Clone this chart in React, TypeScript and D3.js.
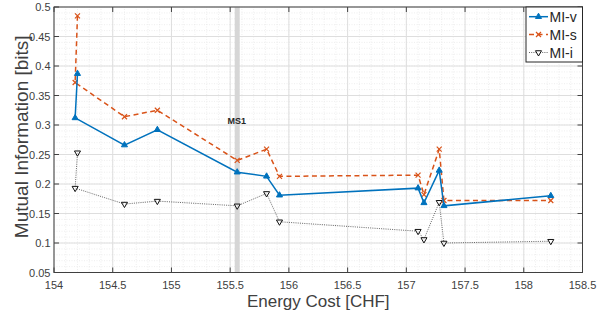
import { useEffect, useRef } from 'react'
import * as d3 from 'd3'

// energy cost of each configuration (same x for all three series, in plotted order)
const cost = [154.2, 154.18, 154.6, 154.88, 155.56, 155.81, 155.92, 157.1, 157.15, 157.28, 157.32, 158.23]
const miV = [0.387, 0.312, 0.266, 0.292, 0.22, 0.213, 0.181, 0.193, 0.168, 0.223, 0.163, 0.18]
const miS = [0.485, 0.372, 0.314, 0.325, 0.24, 0.259, 0.213, 0.215, 0.182, 0.259, 0.172, 0.172]
const miI = [0.253, 0.193, 0.166, 0.171, 0.163, 0.184, 0.136, 0.12, 0.106, 0.169, 0.1, 0.103]
const seriesNames = ['MI-v', 'MI-s', 'MI-i']
const xTicks = [154, 154.5, 155, 155.5, 156, 156.5, 157, 157.5, 158, 158.5]
const yTicks = [0.05, 0.1, 0.15, 0.2, 0.25, 0.3, 0.35, 0.4, 0.45, 0.5]
const msCost = 155.56
const msLabel = 'MS1'

const W = 598
const H = 323
const M = { left: 54, right: 15.5, top: 7, bottom: 50.5 }
const AX = '#404040'

export default function App() {
  const ref = useRef<SVGSVGElement>(null)

  useEffect(() => {
    if (!ref.current) return
    const svg = d3.select(ref.current)
    svg.selectAll('*').remove()

    const x = d3.scaleLinear().domain([154, 158.5]).range([M.left, W - M.right])
    const y = d3.scaleLinear().domain([0.05, 0.5]).range([H - M.bottom, M.top])
    const [x0, x1] = x.range()
    const [y0, y1] = y.range()

    // minor grid
    const g = svg.append('g')
    d3.range(154, 158.5001, 0.1).forEach(v => {
      g.append('line').attr('x1', x(v)).attr('x2', x(v)).attr('y1', y0).attr('y2', y1)
        .attr('stroke', '#e3e3e3').attr('stroke-width', 0.6).attr('stroke-dasharray', '1,1.5')
    })
    d3.range(0.05, 0.5001, 0.01).forEach(v => {
      g.append('line').attr('x1', x0).attr('x2', x1).attr('y1', y(v)).attr('y2', y(v))
        .attr('stroke', '#e3e3e3').attr('stroke-width', 0.6).attr('stroke-dasharray', '1,1.5')
    })
    // major grid
    xTicks.forEach(v => {
      g.append('line').attr('x1', x(v)).attr('x2', x(v)).attr('y1', y0).attr('y2', y1)
        .attr('stroke', '#dedede').attr('stroke-width', 1)
    })
    yTicks.forEach(v => {
      g.append('line').attr('x1', x0).attr('x2', x1).attr('y1', y(v)).attr('y2', y(v))
        .attr('stroke', '#dedede').attr('stroke-width', 1)
    })

    // MS1 band + label
    svg.append('rect')
      .attr('x', x(msCost) - 2.5).attr('y', y1).attr('width', 5).attr('height', y0 - y1)
      .attr('fill', '#d6d6d6')
    svg.append('text')
      .attr('x', x(msCost) - 0.5).attr('y', 124)
      .attr('text-anchor', 'middle')
      .attr('font-family', 'Liberation Sans, Arial, sans-serif')
      .attr('font-size', 9).attr('font-weight', 'bold').attr('fill', '#262626')
      .text(msLabel)

    const line = (vals: number[]) =>
      d3.line<number>().x((_, i) => x(cost[i])).y(d => y(d))(vals) as string

    const triUp = d3.symbol(d3.symbolTriangle, 16)() as string
    const triDown = d3.symbol(d3.symbolTriangle, 16)() as string
    const cross = 'M-2.5,-2.5L2.5,2.5M-2.5,2.5L2.5,-2.5'

    // MI-i
    svg.append('path').attr('d', line(miI)).attr('fill', 'none')
      .attr('stroke', '#555').attr('stroke-width', 0.9).attr('stroke-dasharray', '1,1.2')
    miI.forEach((v, i) => {
      svg.append('path').attr('d', triDown)
        .attr('transform', `translate(${x(cost[i])},${y(v)}) rotate(180)`)
        .attr('fill', '#fff').attr('fill-opacity', 0.6).attr('stroke', '#111').attr('stroke-width', 1)
    })

    // MI-s
    svg.append('path').attr('d', line(miS)).attr('fill', 'none')
      .attr('stroke', '#D95319').attr('stroke-width', 1.5).attr('stroke-dasharray', '5,3.5')
    miS.forEach((v, i) => {
      svg.append('path').attr('d', cross)
        .attr('transform', `translate(${x(cost[i])},${y(v)})`)
        .attr('fill', 'none').attr('stroke', '#D95319').attr('stroke-width', 1.2)
    })

    // MI-v
    svg.append('path').attr('d', line(miV)).attr('fill', 'none')
      .attr('stroke', '#0072BD').attr('stroke-width', 1.5)
    miV.forEach((v, i) => {
      svg.append('path').attr('d', triUp)
        .attr('transform', `translate(${x(cost[i])},${y(v)})`)
        .attr('fill', '#0072BD').attr('stroke', '#0072BD').attr('stroke-width', 1)
    })

    // box + ticks (inward, all four sides)
    const ax = svg.append('g').attr('stroke', AX).attr('stroke-width', 1)
    ax.append('rect').attr('x', x0).attr('y', y1).attr('width', x1 - x0).attr('height', y0 - y1)
      .attr('fill', 'none')
    xTicks.forEach(v => {
      ax.append('line').attr('x1', x(v)).attr('x2', x(v)).attr('y1', y0).attr('y2', y0 - 5)
      ax.append('line').attr('x1', x(v)).attr('x2', x(v)).attr('y1', y1).attr('y2', y1 + 5)
    })
    yTicks.forEach(v => {
      ax.append('line').attr('x1', x0).attr('x2', x0 + 5).attr('y1', y(v)).attr('y2', y(v))
      ax.append('line').attr('x1', x1).attr('x2', x1 - 5).attr('y1', y(v)).attr('y2', y(v))
    })

    const font = 'Liberation Sans, Arial, sans-serif'
    xTicks.forEach(v => {
      svg.append('text').attr('x', x(v)).attr('y', y0 + 16.5)
        .attr('text-anchor', 'middle').attr('font-family', font).attr('font-size', 11)
        .attr('fill', AX).text(String(v))
    })
    yTicks.forEach(v => {
      svg.append('text').attr('x', x0 - 3.5).attr('y', y(v) + 4)
        .attr('text-anchor', 'end').attr('font-family', font).attr('font-size', 11)
        .attr('fill', AX).text(String(v))
    })

    svg.append('text').attr('x', (x0 + x1) / 2).attr('y', 307)
      .attr('text-anchor', 'middle').attr('font-family', font).attr('font-size', 17)
      .attr('fill', AX).text('Energy Cost [CHF]')
    svg.append('text')
      .attr('transform', `translate(28,${(y0 + y1) / 2 - 3}) rotate(-90)`)
      .attr('text-anchor', 'middle').attr('font-family', font).attr('font-size', 19)
      .attr('fill', AX).text('Mutual Information [bits]')

    // legend
    const lg = svg.append('g')
    lg.append('rect').attr('x', 526).attr('y', y1).attr('width', x1 - 526).attr('height', 55)
      .attr('fill', '#fff').attr('stroke', '#262626').attr('stroke-width', 1)
    const rows = [16.7, 34.5, 52.5]
    seriesNames.forEach((name, i) => {
      const yy = rows[i]
      const ln = lg.append('line').attr('x1', 529).attr('x2', 548).attr('y1', yy).attr('y2', yy)
      if (i === 0) {
        ln.attr('stroke', '#0072BD').attr('stroke-width', 1.5)
        lg.append('path').attr('d', triUp).attr('transform', `translate(538.5,${yy})`)
          .attr('fill', '#0072BD').attr('stroke', '#0072BD')
      } else if (i === 1) {
        ln.attr('stroke', '#D95319').attr('stroke-width', 1.5).attr('stroke-dasharray', '5,3.5')
        lg.append('path').attr('d', cross).attr('transform', `translate(538.5,${yy})`)
          .attr('stroke', '#D95319').attr('stroke-width', 1.2)
      } else {
        ln.attr('stroke', '#555').attr('stroke-width', 0.9).attr('stroke-dasharray', '1,1.2')
        lg.append('path').attr('d', triDown).attr('transform', `translate(538.5,${yy}) rotate(180)`)
          .attr('fill', '#fff').attr('stroke', '#111')
      }
      lg.append('text').attr('x', 549.5).attr('y', yy + 5).attr('font-family', font)
        .attr('font-size', 14).attr('fill', '#262626').text(name)
    })
  }, [])

  return (
    <svg ref={ref} width={W} height={H}
      style={{ position: 'absolute', left: 0, top: 0, background: '#fff' }} />
  )
}
